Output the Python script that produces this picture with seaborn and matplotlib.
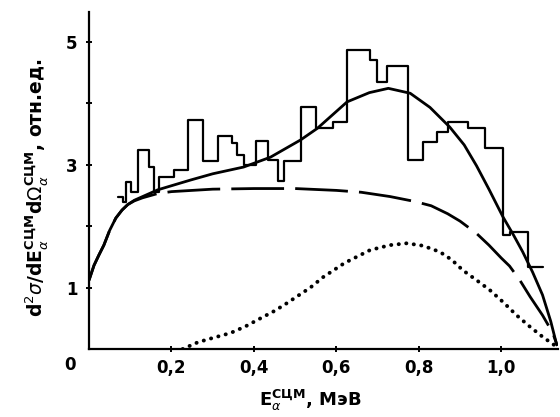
import numpy as np
import pandas as pd
import matplotlib
matplotlib.use("Agg")
import matplotlib.pyplot as plt
import seaborn as sns

# ---- data ----
hist_edges = [0.070, 0.082, 0.089, 0.102, 0.119, 0.145, 0.157, 0.169, 0.206, 0.239,
              0.276, 0.312, 0.346, 0.358, 0.375, 0.404, 0.435, 0.459, 0.472, 0.513,
              0.551, 0.593, 0.626, 0.682, 0.699, 0.723, 0.774, 0.810, 0.844, 0.871,
              0.919, 0.960, 1.004, 1.021, 1.064, 1.100]
hist_values = [2.47, 2.39, 2.72, 2.55, 3.24, 2.96, 2.55, 2.80, 2.91, 3.72,
               3.06, 3.46, 3.35, 3.15, 2.99, 3.38, 3.07, 2.73, 3.06, 3.93,
               3.59, 3.69, 4.86, 4.70, 4.34, 4.60, 3.07, 3.37, 3.53, 3.69,
               3.59, 3.27, 1.85, 1.90, 1.33]

solid_x = [0.0, 0.006, 0.012, 0.024, 0.036, 0.05, 0.065, 0.08, 0.094, 0.11, 0.13,
           0.167, 0.247, 0.30, 0.375, 0.44, 0.513, 0.554, 0.626, 0.68, 0.726,
           0.779, 0.827, 0.875, 0.91, 0.94, 0.97, 1.004, 1.03, 1.052, 1.076,
           1.10, 1.12, 1.134]
solid_y = [1.12, 1.24, 1.36, 1.53, 1.69, 1.93, 2.13, 2.26, 2.35, 2.42, 2.48,
           2.59, 2.75, 2.85, 2.96, 3.12, 3.40, 3.59, 4.02, 4.17, 4.24,
           4.16, 3.93, 3.61, 3.32, 2.98, 2.60, 2.15, 1.85, 1.58, 1.25,
           0.88, 0.45, 0.08]

dashed_x = [0.0, 0.006, 0.012, 0.024, 0.036, 0.05, 0.065, 0.08, 0.094, 0.11, 0.13,
            0.167, 0.20, 0.30, 0.40, 0.50, 0.60, 0.66, 0.73, 0.79, 0.83, 0.87,
            0.90, 0.94, 0.97, 1.00, 1.02, 1.045, 1.07, 1.10, 1.125, 1.136]
dashed_y = [1.12, 1.24, 1.36, 1.53, 1.69, 1.93, 2.13, 2.26, 2.35, 2.41, 2.46,
            2.53, 2.56, 2.60, 2.61, 2.61, 2.58, 2.55, 2.48, 2.40, 2.33, 2.20,
            2.08, 1.88, 1.69, 1.48, 1.35, 1.12, 0.85, 0.55, 0.26, 0.05]

dotted_x = [0.227, 0.264, 0.30, 0.343, 0.38, 0.416, 0.45, 0.481, 0.51, 0.537,
            0.568, 0.62, 0.682, 0.73, 0.771, 0.81, 0.851, 0.88, 0.907, 0.94,
            0.972, 1.005, 1.037, 1.07, 1.10, 1.125, 1.14]
dotted_y = [0.0, 0.11, 0.18, 0.26, 0.37, 0.50, 0.62, 0.75, 0.88, 1.00,
            1.17, 1.40, 1.61, 1.69, 1.72, 1.68, 1.58, 1.45, 1.28, 1.12,
            0.96, 0.76, 0.55, 0.36, 0.20, 0.08, 0.02]

x_ticks = [0.2, 0.4, 0.6, 0.8, 1.0]
x_tick_labels = ["0,2", "0,4", "0,6", "0,8", "1,0"]
y_ticks = [1, 2, 3, 4, 5]
y_tick_labels = ["1", "", "3", "", "5"]

# ---- plot ----
sns.set_theme(style="white")
plt.rcParams['font.family'] = ['DejaVu Sans']
plt.rcParams['mathtext.fontset'] = 'dejavusans'
for k in ["text.color", "axes.labelcolor", "xtick.color", "ytick.color"]:
    plt.rcParams[k] = "black"

fig = plt.figure(figsize=(5.6, 4.17), dpi=100)
ax = fig.add_axes([0.159, 0.163, 0.837, 0.808])

df_hist = pd.DataFrame({"x": hist_edges, "y": hist_values + [hist_values[-1]]})
sns.lineplot(data=df_hist, x="x", y="y", ax=ax, color="black", lw=1.6,
             estimator=None, sort=False, drawstyle="steps-post")

sns.lineplot(x=solid_x, y=solid_y, ax=ax, color="black", lw=2.0,
             estimator=None, sort=False)
sns.lineplot(x=dashed_x, y=dashed_y, ax=ax, color="black", lw=2.0,
             estimator=None, sort=False)
ax.lines[-1].set_dashes((19, 4))
sns.lineplot(x=dotted_x, y=dotted_y, ax=ax, color="black", lw=2.8,
             estimator=None, sort=False)
ax.lines[-1].set_dashes((0.05, 1.9))
ax.lines[-1].set_dash_capstyle("round")

ax.set_xlim(0, 1.137)
ax.set_ylim(0, 5.48)
sns.despine(ax=ax)
for s in ["left", "bottom"]:
    ax.spines[s].set_linewidth(1.6)
    ax.spines[s].set_color("black")

ax.set_xticks(x_ticks)
ax.set_xticklabels(x_tick_labels, fontsize=12, fontweight="bold")
ax.set_yticks(y_ticks)
ax.set_yticklabels(y_tick_labels, fontsize=12, fontweight="bold")
ax.tick_params(axis="both", direction="inout", length=5, width=1.4,
               colors="black", bottom=True, left=True)
ax.tick_params(axis="x", pad=5)
ax.tick_params(axis="y", pad=6)

fig.text(70 / 560, 1 - 365 / 417, "0", fontsize=12, fontweight="bold",
         ha="center", va="center")

ax.set_xlabel(r"E$_{\alpha}^{\mathbf{СЦМ}}$, МэВ", fontsize=13, fontweight="bold")
ax.xaxis.set_label_coords(0.473, -0.115)
ax.set_ylabel(r"d$^{2}\sigma$/dE$_{\alpha}^{\mathbf{СЦМ}}$d$\Omega_{\alpha}^{\mathbf{СЦМ}}$, отн.ед.",
              fontsize=13.5, fontweight="bold")
ax.yaxis.set_label_coords(-0.083, 0.48)

fig.savefig("out.png", dpi=100, facecolor="white")
